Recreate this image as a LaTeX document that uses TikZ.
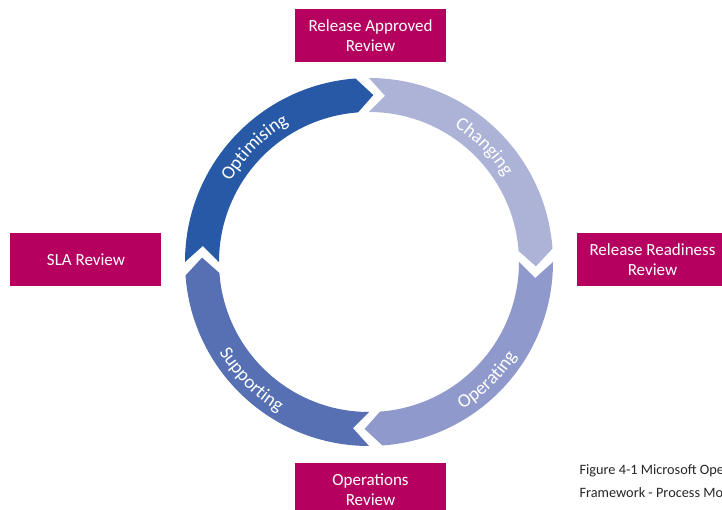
\documentclass[tikz,border=0pt]{standalone}
\usepackage{fontspec}
\setmainfont{Carlito}
\usetikzlibrary{decorations.text}

\definecolor{reviewmagenta}{HTML}{B5005F}
\definecolor{optblue}{HTML}{2759A6}
\definecolor{chgblue}{HTML}{ACB3D7}
\definecolor{oprblue}{HTML}{8F99CB}
\definecolor{supblue}{HTML}{5670B3}

\begin{document}
\begin{tikzpicture}[
    x=1pt, y=1pt,
    review/.style={fill=reviewmagenta, text=white, minimum width=151pt, minimum height=53pt,
      align=center, font=\fontsize{17}{20}\selectfont, inner sep=0pt},
    caption/.style={anchor=west, align=left, text=black!85, font=\fontsize{14.3}{23}\selectfont}
  ]
  \useasboundingbox (-369,-248) rectangle (353,262);
  \clip (-369,-248) rectangle (353,262);

  % Ring of four arrow segments, running clockwise from the tail angle \A
  \foreach \A/\col in {180/optblue, 90/chgblue, 0/oprblue, -90/supblue}{
    \pgfmathsetmacro{\B}{\A-90}
    \fill[\col] (\A:184pt) arc[start angle=\A, end angle=\B+4.2, radius=184pt]
      -- ({\B-1.5}:167pt) -- ({\B+4.2}:150pt)
      arc[start angle=\B+4.2, end angle=\A, radius=150pt]
      -- ({\A-5.5}:167pt) -- cycle;
  }

  % Phase names along the ring
  \path[decorate, decoration={text along path, text align=center,
      text={|\color{white}\fontsize{19}{20}\selectfont|Optimising}}]
    (172:160pt) arc[start angle=172, end angle=98, radius=160pt];
  \path[decorate, decoration={text along path, text align=center,
      text={|\color{white}\fontsize{19}{20}\selectfont|Changing}}]
    (82:160pt) arc[start angle=82, end angle=8, radius=160pt];
  \path[decorate, decoration={text along path, text align=center,
      text={|\color{white}\fontsize{19}{20}\selectfont|Operating}}]
    (-82:175pt) arc[start angle=-82, end angle=-8, radius=175pt];
  \path[decorate, decoration={text along path, text align=center,
      text={|\color{white}\fontsize{19}{20}\selectfont|Supporting}}]
    (188:175pt) arc[start angle=188, end angle=262, radius=175pt];

  % Management reviews
  \node[review] (approved) at (1.5,226.5) {Release Approved\\Review};
  \node[review] (readiness) at (283.5,2) {Release Readiness\\Review};
  \node[review] (sla) at (-283,2) {SLA Review};
  \node[review] (operations) at (1.5,-228) {Operations\\Review};

  \node[caption] (figcaption) at (207,-219.5)
    {Figure 4-1 Microsoft Operations\\Framework - Process Model};
\end{tikzpicture}
\end{document}
